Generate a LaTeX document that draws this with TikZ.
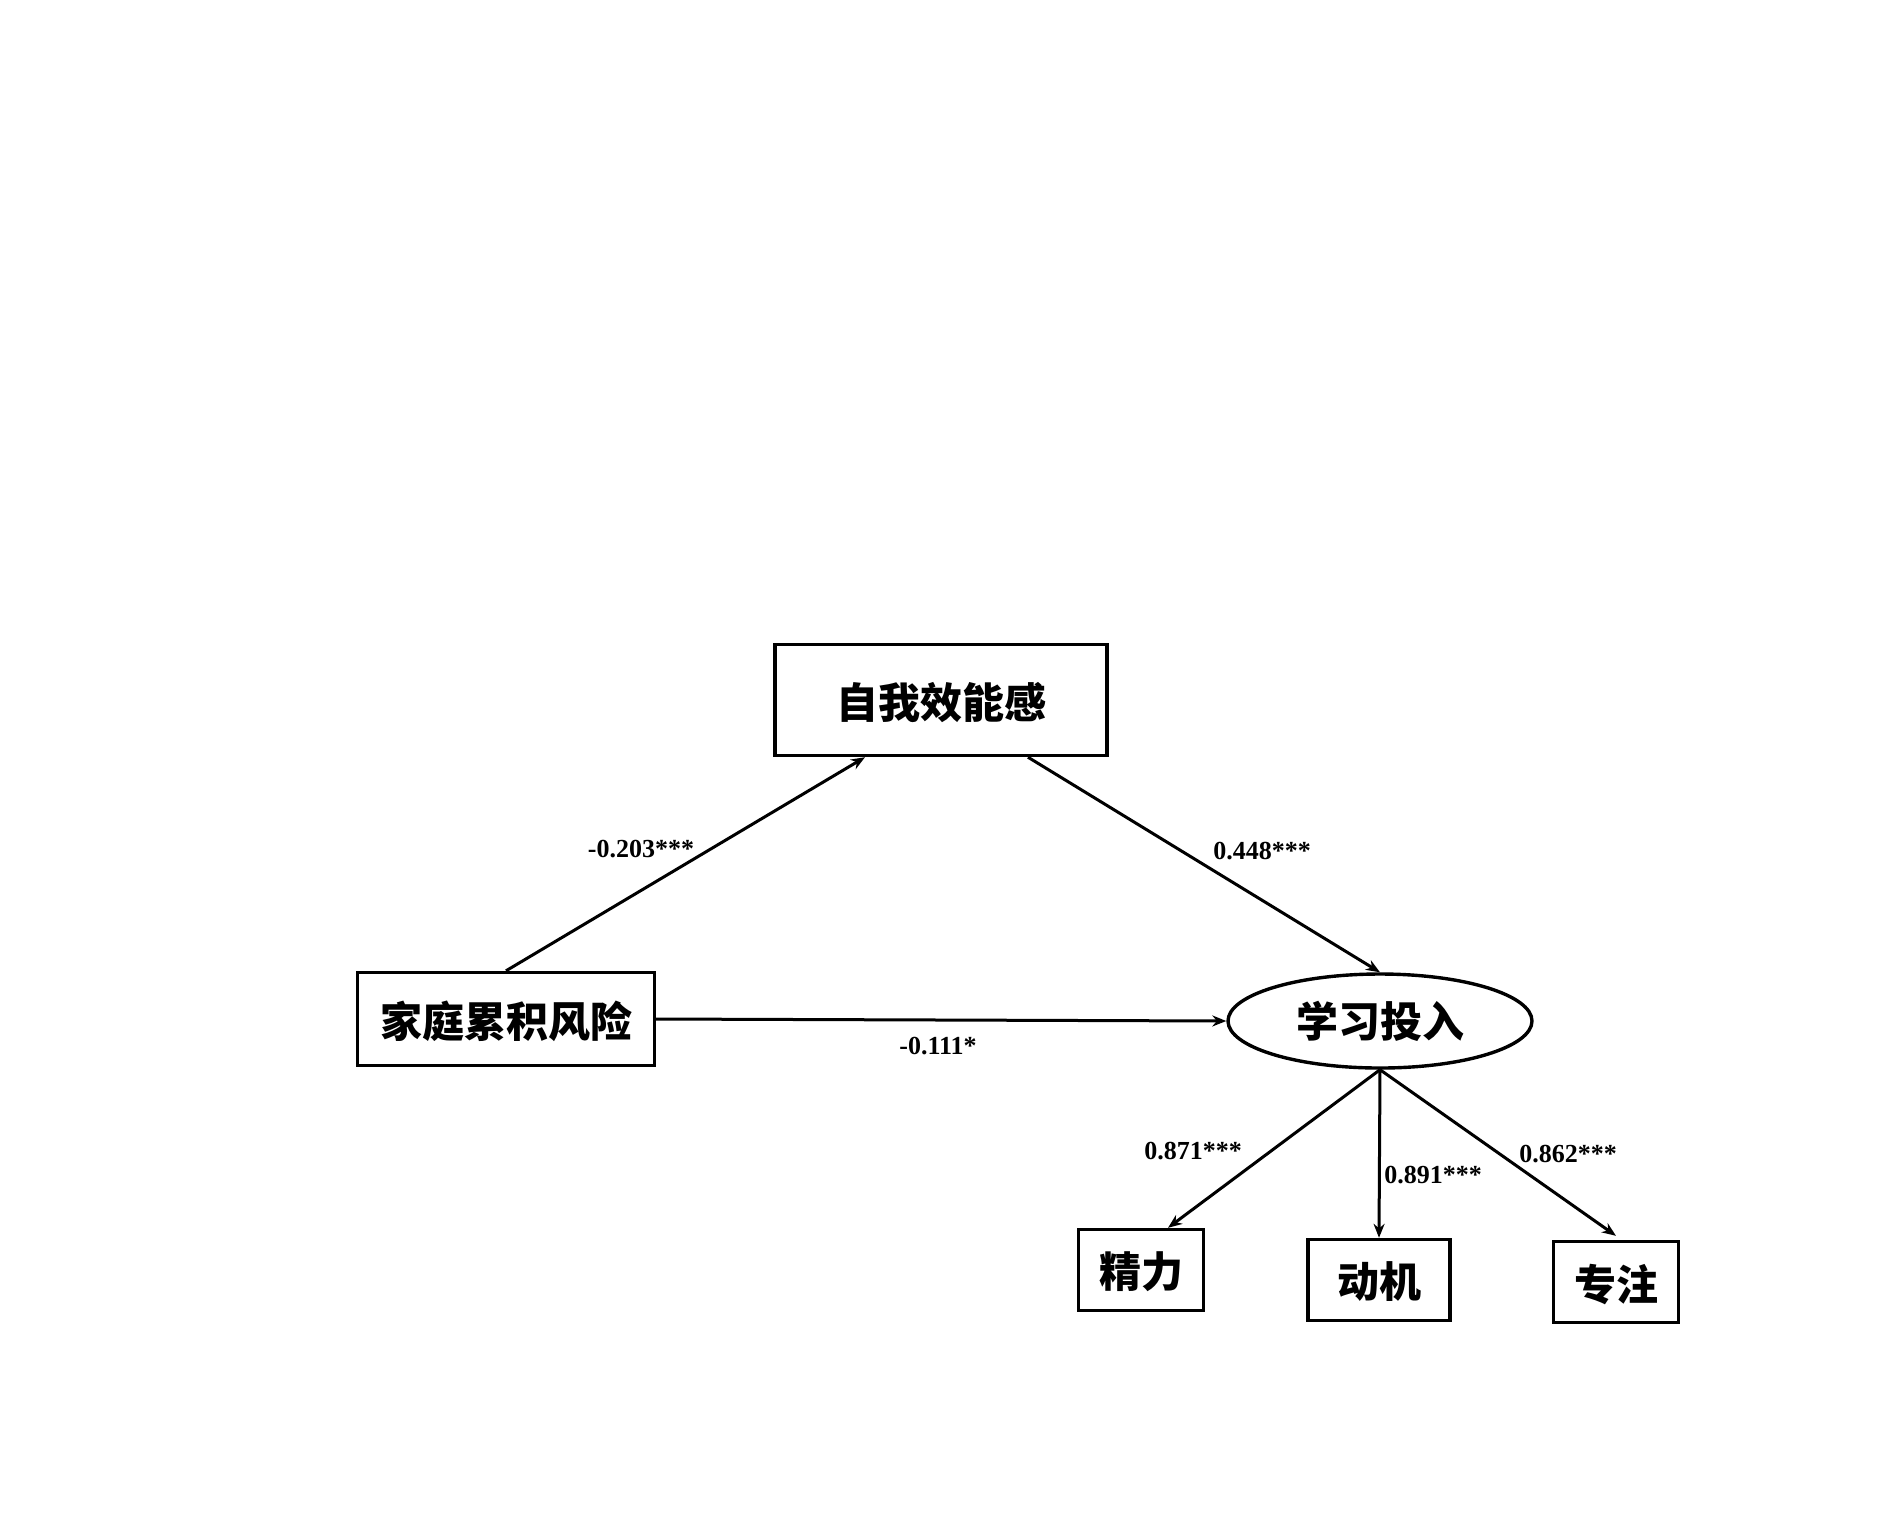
\documentclass[tikz,border=0pt]{standalone}
\usepackage{fontspec}
\setmainfont{Liberation Serif}
\newfontfamily\cjk{Noto Sans CJK SC}
\usetikzlibrary{shapes.geometric,arrows.meta}
\tikzset{
  box/.style={draw, line width=1.7pt, inner sep=0pt, text depth=0pt, font=\cjk\bfseries\fontsize{21}{21}\selectfont},
  oval/.style={draw, ellipse, line width=1.7pt, inner sep=0pt, minimum width=152pt, minimum height=47pt, font=\cjk\bfseries\fontsize{21}{21}\selectfont},
  path/.style={line width=1.5pt, -{Stealth[length=7pt,width=5.5pt]}},
  coef/.style={font=\bfseries\fontsize{13}{13}\selectfont, inner sep=0pt}
}
\begin{document}
\begin{tikzpicture}[x=0.5pt,y=-0.5pt]
\useasboundingbox (0,0) rectangle (1890,1512);
\node[box, minimum width=166pt, minimum height=55.5pt] (zw) at (941,700) {自我效能感};
\node[box, minimum width=148.5pt, minimum height=46.5pt] (jt) at (506,1019) {家庭累积风险};
\node[oval] (xx) at (1380,1021) {学习投入};
\node[box, minimum width=62.5pt, minimum height=40.5pt] (jl) at (1141,1270) {精力};
\node[box, minimum width=71pt, minimum height=40.5pt] (dj) at (1379,1280) {动机};
\node[box, minimum width=62.5pt, minimum height=40.5pt] (zz) at (1616,1282) {专注};

\draw[path] (jt.north) -- ([xshift=-38pt]zw.south);
\draw[path] ([xshift=43.5pt]zw.south) -- (xx.north);
\draw[path] (jt.east) -- (xx.west);
\draw[path] (xx.south) -- ([xshift=13.5pt]jl.north);
\draw[path] (xx.south) -- (dj.north);
\draw[path] (xx.south) -- ([yshift=2pt]zz.north);

\node[coef] (c1) at (641,849) {-0.203***};
\node[coef] (c2) at (1262,851) {0.448***};
\node[coef] (c3) at (938,1046) {-0.111*};
\node[coef] (c4) at (1193,1151) {0.871***};
\node[coef] (c5) at (1433,1175) {0.891***};
\node[coef] (c6) at (1568,1154) {0.862***};
\end{tikzpicture}
\end{document}
